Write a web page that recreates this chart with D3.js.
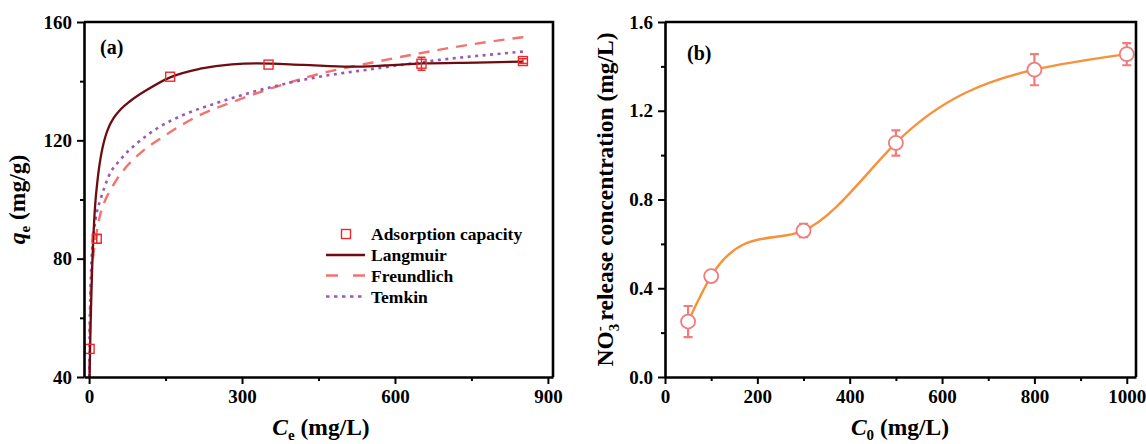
<!DOCTYPE html>
<html>
<head>
<meta charset="utf-8">
<script src="https://cdn.jsdelivr.net/npm/d3@7"></script>
<style>
  html, body { margin: 0; padding: 0; background: #fff; }
  svg { display: block; font-family: "Liberation Serif", "Times New Roman", serif; font-weight: bold; }
  .axis path, .axis line { stroke: #000; }
  .axis path { stroke-width: 2.6; }
  .axis line { stroke-width: 2; }
  .axis text { font-size: 19px; font-weight: bold; fill: #000; font-family: "Liberation Serif", "Times New Roman", serif; }
</style>
</head>
<body>
<svg id="chart" width="1146" height="444"></svg>
<script>
// ---- Panel (a): adsorption isotherm ----
const ceMeasured = [1, 15, 159, 352, 652, 851];
const qeMeasured = [49.5, 86.7, 141.5, 145.6, 145.9, 146.8];
const qeError = [0, 1.5, 0, 0, 2.2, 0.8];

const langmuirCe = [0.8, 2, 3, 4.5, 6, 8, 10, 12.5, 15.6, 19, 22, 27, 32, 40, 48, 62, 81, 113, 159, 218, 280, 330, 420, 511, 580, 654, 760, 851];
const langmuirQe = [38, 50, 58, 68, 77, 86, 93, 99.5, 105, 110, 113.5, 118, 121.3, 125, 127.5, 130.5, 133.3, 137, 141.3, 144.2, 145.7, 146, 145.5, 144.9, 145.3, 146, 146.3, 146.6];

const freundlichCe = [0.5, 1.5, 2.5, 5, 9, 15, 22, 31, 42, 55, 68, 100, 146, 211, 282, 374, 452, 556, 648, 752, 852];
const freundlichQe = [35, 55, 65, 75, 82, 89, 95, 99.5, 103.2, 107, 110, 115.6, 121.3, 128, 133, 138.5, 142.5, 146.3, 149.4, 152.5, 154.9];

const temkinCe = [0.3, 1, 2, 3.5, 5.9, 10, 15, 22, 30, 38, 61, 94, 133, 185, 250, 300, 374, 452, 543, 622, 687, 759, 852];
const temkinQe = [40, 55, 65, 74, 83, 90, 95.5, 99.8, 104, 107.7, 113.4, 119, 124, 128.6, 132.6, 135.3, 138.7, 141.5, 143.8, 145.7, 147.2, 148.5, 150];

const aXTicks = [0, 300, 600, 900];
const aXMinor = [150, 450, 750];
const aYTicks = [40, 80, 120, 160];
const aYMinor = [60, 100, 140];

// ---- Panel (b): nitrate release ----
const c0Values = [50, 100, 300, 500, 800, 1000];
const no3Values = [0.25, 0.455, 0.66, 1.055, 1.385, 1.455];
const no3Error = [0.07, 0.015, 0.03, 0.057, 0.07, 0.05];

const bXTicks = [0, 200, 400, 600, 800, 1000];
const bXMinor = [100, 300, 500, 700, 900];
const bYTicks = [0.0, 0.4, 0.8, 1.2, 1.6];
const bYMinor = [0.2, 0.6, 1.0, 1.4];

const colors = {
  langmuir: "#6e0c10",
  freundlich: "#f4736f",
  temkin: "#9d58b4",
  square: "#ec2a2e",
  orange: "#f7913a",
  circle: "#f07c7c"
};

const svg = d3.select("#chart");

// Natural cubic spline y(x) through the given pixel points, written as Bézier segments.
function splinePath(px, py) {
  const n = px.length;
  const h = d3.range(n - 1).map(i => px[i + 1] - px[i]);
  const M = new Array(n).fill(0);
  if (n > 2) {
    const a = [], b = [], c = [], d = [];
    for (let i = 1; i < n - 1; i++) {
      a.push(h[i - 1]);
      b.push(2 * (h[i - 1] + h[i]));
      c.push(h[i]);
      d.push(6 * ((py[i + 1] - py[i]) / h[i] - (py[i] - py[i - 1]) / h[i - 1]));
    }
    const m = b.length;
    for (let i = 1; i < m; i++) {
      const w = a[i] / b[i - 1];
      b[i] -= w * c[i - 1];
      d[i] -= w * d[i - 1];
    }
    const sol = new Array(m);
    sol[m - 1] = d[m - 1] / b[m - 1];
    for (let i = m - 2; i >= 0; i--) sol[i] = (d[i] - c[i] * sol[i + 1]) / b[i];
    for (let i = 0; i < m; i++) M[i + 1] = sol[i];
  }
  const p = d3.path();
  p.moveTo(px[0], py[0]);
  for (let i = 0; i < n - 1; i++) {
    const hi = h[i], s = (py[i + 1] - py[i]) / hi;
    const d0 = s - hi * (2 * M[i] + M[i + 1]) / 6;
    const d1 = s + hi * (M[i] + 2 * M[i + 1]) / 6;
    p.bezierCurveTo(px[i] + hi / 3, py[i] + d0 * hi / 3,
                    px[i + 1] - hi / 3, py[i + 1] - d1 * hi / 3,
                    px[i + 1], py[i + 1]);
  }
  return p.toString();
}

function drawAxes(g, x, y, xt, xm, yt, ym, yFmt, box) {
  const [x0, x1, y0, y1] = box; // left, right, top, bottom
  g.append("path")
    .attr("d", `M${x0},${y0}H${x1}V${y1}`)
    .attr("fill", "none").attr("stroke", "#000").attr("stroke-width", 2.6);

  g.append("g").attr("class", "axis").attr("transform", `translate(0,${y1})`)
    .call(d3.axisBottom(x).tickValues(xm).tickSize(4).tickFormat(""))
    .call(s => s.select(".domain").remove());
  g.append("g").attr("class", "axis").attr("transform", `translate(${x0},0)`)
    .call(d3.axisLeft(y).tickValues(ym).tickSize(4).tickFormat(""))
    .call(s => s.select(".domain").remove());

  g.append("g").attr("class", "axis").attr("transform", `translate(0,${y1})`)
    .call(d3.axisBottom(x).tickValues(xt).tickSize(7).tickPadding(6).tickSizeOuter(0).tickFormat(d3.format("d")));
  g.append("g").attr("class", "axis").attr("transform", `translate(${x0},0)`)
    .call(d3.axisLeft(y).tickValues(yt).tickSize(7).tickPadding(5).tickSizeOuter(0).tickFormat(yFmt));
}

// ================= Panel (a) =================
const aBox = [84, 553, 22, 377];
const xA = d3.scaleLinear().domain([-10, 910]).range([aBox[0], aBox[1]]);
const yA = d3.scaleLinear().domain([40, 160]).range([aBox[3], aBox[2]]);
const gA = svg.append("g");

gA.append("clipPath").attr("id", "clipA").append("rect")
  .attr("x", aBox[0]).attr("y", aBox[2]).attr("width", aBox[1] - aBox[0]).attr("height", aBox[3] - aBox[2]);

const lineA = d3.line().curve(d3.curveMonotoneX).x(d => xA(d[0])).y(d => yA(d[1]));
const plotA = gA.append("g").attr("clip-path", "url(#clipA)");

plotA.append("path").datum(d3.zip(freundlichCe, freundlichQe))
  .attr("d", lineA).attr("fill", "none").attr("stroke", colors.freundlich)
  .attr("stroke-width", 2.4).attr("stroke-dasharray", "11,8");
plotA.append("path").datum(d3.zip(temkinCe, temkinQe))
  .attr("d", lineA).attr("fill", "none").attr("stroke", colors.temkin)
  .attr("stroke-width", 2.6).attr("stroke-dasharray", "3,4.5");
plotA.append("path").datum(d3.zip(langmuirCe, langmuirQe))
  .attr("d", lineA).attr("fill", "none").attr("stroke", colors.langmuir)
  .attr("stroke-width", 2.3);

// measured points with small error bars
const ptsA = plotA.append("g").selectAll("g").data(d3.range(ceMeasured.length)).join("g");
ptsA.filter(i => qeError[i] > 0).append("path")
  .attr("d", i => {
    const cx = xA(ceMeasured[i]), t = yA(qeMeasured[i] + qeError[i]), b = yA(qeMeasured[i] - qeError[i]);
    return `M${cx},${t}V${b}M${cx - 4},${t}H${cx + 4}M${cx - 4},${b}H${cx + 4}`;
  })
  .attr("stroke", colors.square).attr("stroke-width", 1.5).attr("fill", "none");
ptsA.append("rect")
  .attr("x", i => xA(ceMeasured[i]) - 4.5).attr("y", i => yA(qeMeasured[i]) - 4.5)
  .attr("width", 9).attr("height", 9)
  .attr("fill", "none").attr("stroke", colors.square).attr("stroke-width", 1.4);

drawAxes(gA, xA, yA, aXTicks, aXMinor, aYTicks, aYMinor, d3.format("d"), aBox);

gA.append("text").attr("x", 100).attr("y", 54).attr("font-size", 20).text("(a)");

// legend
const legA = gA.append("g").attr("font-size", 17.5);
const legRows = [
  { label: "Adsorption capacity", y: 234, kind: "square" },
  { label: "Langmuir", y: 255, kind: "line", color: colors.langmuir, dash: null, w: 2.3 },
  { label: "Freundlich", y: 275.5, kind: "line", color: colors.freundlich, dash: "12,15", w: 2.4 },
  { label: "Temkin", y: 296.5, kind: "line", color: colors.temkin, dash: "3.5,4.5", w: 2.6 }
];
legRows.forEach(r => {
  if (r.kind === "square") {
    legA.append("rect").attr("x", 341.5).attr("y", r.y - 4.5).attr("width", 9).attr("height", 9)
      .attr("fill", "none").attr("stroke", colors.square).attr("stroke-width", 1.4);
  } else {
    legA.append("line").attr("x1", 326).attr("x2", 365).attr("y1", r.y).attr("y2", r.y)
      .attr("stroke", r.color).attr("stroke-width", r.w).attr("stroke-dasharray", r.dash);
  }
  legA.append("text").attr("x", 371).attr("y", r.y + 6).text(r.label);
});

// axis titles
const titleA = gA.append("text").attr("font-size", 23.5).attr("text-anchor", "middle")
  .attr("x", 321).attr("y", 435);
titleA.append("tspan").attr("font-style", "italic").text("C");
titleA.append("tspan").attr("font-size", 15).attr("dy", 5).text("e");
titleA.append("tspan").attr("dy", -5).text(" (mg/L)");

const yTitleA = gA.append("text").attr("font-size", 23.5).attr("text-anchor", "middle")
  .attr("transform", "translate(25,199.5) rotate(-90)");
yTitleA.append("tspan").attr("font-style", "italic").text("q");
yTitleA.append("tspan").attr("font-size", 15).attr("dy", 5).text("e");
yTitleA.append("tspan").attr("dy", -5).text(" (mg/g)");

// ================= Panel (b) =================
const bBox = [665, 1136, 22, 377];
const xB = d3.scaleLinear().domain([0, 1020]).range([bBox[0], bBox[1]]);
const yB = d3.scaleLinear().domain([0, 1.6]).range([bBox[3], bBox[2]]);
const gB = svg.append("g");

gB.append("path")
  .attr("d", splinePath(c0Values.map(xB), no3Values.map(yB)))
  .attr("fill", "none").attr("stroke", colors.orange).attr("stroke-width", 2.4);

const ptsB = gB.append("g").selectAll("g").data(d3.range(c0Values.length)).join("g");
ptsB.append("path")
  .attr("d", i => {
    const cx = xB(c0Values[i]), t = yB(no3Values[i] + no3Error[i]), b = yB(no3Values[i] - no3Error[i]);
    return `M${cx},${t}V${b}M${cx - 4.5},${t}H${cx + 4.5}M${cx - 4.5},${b}H${cx + 4.5}`;
  })
  .attr("stroke", colors.circle).attr("stroke-width", 2.2).attr("fill", "none");
ptsB.append("circle")
  .attr("cx", i => xB(c0Values[i])).attr("cy", i => yB(no3Values[i])).attr("r", 7)
  .attr("fill", "#fff").attr("stroke", colors.circle).attr("stroke-width", 1.8);

drawAxes(gB, xB, yB, bXTicks, bXMinor, bYTicks, bYMinor, d3.format(".1f"), bBox);

gB.append("text").attr("x", 687).attr("y", 60).attr("font-size", 20).text("(b)");

const titleB = gB.append("text").attr("font-size", 23.5).attr("text-anchor", "middle")
  .attr("x", 900).attr("y", 435);
titleB.append("tspan").attr("font-style", "italic").text("C");
titleB.append("tspan").attr("font-size", 15).attr("dy", 5).text("0");
titleB.append("tspan").attr("dy", -5).text(" (mg/L)");

const yTitleB = gB.append("text").attr("font-size", 23.5).attr("text-anchor", "middle")
  .attr("transform", "translate(613,199.5) rotate(-90)");
yTitleB.append("tspan").text("NO");
yTitleB.append("tspan").attr("font-size", 15).attr("dy", 6).text("3");
yTitleB.append("tspan").attr("font-size", 15).attr("dx", -7.5).attr("dy", -15).text("-");
yTitleB.append("tspan").attr("dy", 9).text(" release concentration (mg/L)");
</script>
</body>
</html>
